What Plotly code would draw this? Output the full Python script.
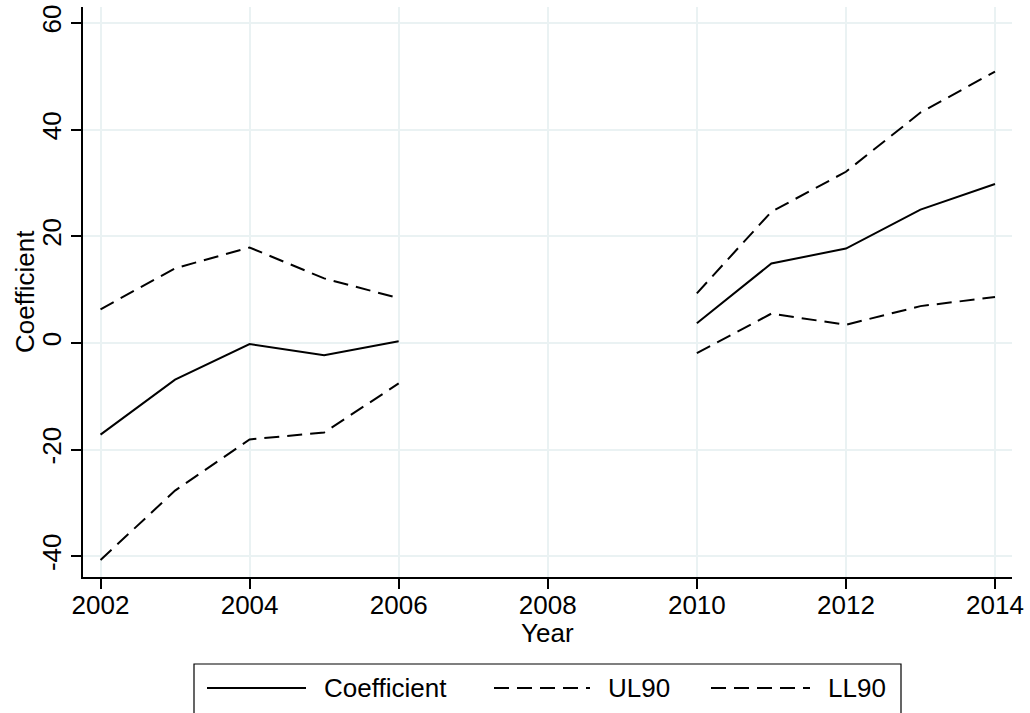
import plotly.graph_objects as go

years = [2002, 2003, 2004, 2005, 2006, 2007, 2008, 2009, 2010, 2011, 2012, 2013, 2014]
coefficient = [-17.2, -6.9, -0.2, -2.3, 0.3, None, None, None, 3.7, 14.9, 17.7, 25.0, 29.8]
ul90 = [6.3, 14.0, 17.9, 12.1, 8.4, None, None, None, 9.3, 24.6, 32.1, 43.2, 50.9]
ll90 = [-40.7, -27.7, -18.1, -16.8, -7.6, None, None, None, -1.9, 5.5, 3.4, 6.9, 8.6]

series_names = ["Coefficient", "UL90", "LL90"]
x_ticks = [2002, 2004, 2006, 2008, 2010, 2012, 2014]
y_ticks = [-40, -20, 0, 20, 40, 60]

FONT = "Liberation Sans, Arial, sans-serif"
FS = 26
GRID = "#EAF2F3"
DASH = "15px,8px"

W, H = 1030, 713
ML, MR, MT, MB = 83, 18, 7, 136
PW, PH = W - ML - MR, H - MT - MB


def px_x(p):
    return (p - ML) / PW


def px_y(p):
    return (H - MB - p) / PH


fig = go.Figure()
styles = [None, DASH, DASH]
for name, vals, dash in zip(series_names, [coefficient, ul90, ll90], styles):
    line = dict(color="black", width=2)
    if dash:
        line["dash"] = dash
    fig.add_trace(go.Scatter(x=years, y=vals, mode="lines", name=name,
                             line=line, connectgaps=False, showlegend=False))

# Legend (drawn manually to match Stata layout)
shapes = [dict(type="rect", xref="paper", yref="paper",
               x0=px_x(194), x1=px_x(901), y0=px_y(664), y1=px_y(740),
               line=dict(color="black", width=1.2), fillcolor="rgba(0,0,0,0)")]
annotations = []
legend_items = [(207, 306, 322, None), (494, 590, 606, DASH), (711, 810, 826, DASH)]
for name, (s0, s1, tx, dash) in zip(series_names, legend_items):
    ln = dict(color="black", width=2)
    if dash:
        ln["dash"] = dash
    shapes.append(dict(type="line", xref="paper", yref="paper",
                       x0=px_x(s0), x1=px_x(s1), y0=px_y(688), y1=px_y(688), line=ln))
    annotations.append(dict(text=name, xref="paper", yref="paper", x=px_x(tx), y=px_y(688),
                            xanchor="left", yanchor="middle", showarrow=False,
                            font=dict(family=FONT, size=FS, color="black")))

# Axis titles
annotations.append(dict(text="Year", xref="paper", yref="paper", x=0.5, y=px_y(633),
                        xanchor="center", yanchor="middle", showarrow=False,
                        font=dict(family=FONT, size=FS, color="black")))
annotations.append(dict(text="Coefficient", xref="paper", yref="paper", x=px_x(25), y=0.5,
                        xanchor="center", yanchor="middle", showarrow=False, textangle=-90,
                        font=dict(family=FONT, size=FS, color="black")))

fig.update_layout(
    width=W, height=H, template="none",
    margin=dict(l=ML, r=MR, t=MT, b=MB, autoexpand=False),
    paper_bgcolor="white", plot_bgcolor="white",
    font=dict(family=FONT, size=FS, color="black"),
    showlegend=False,
    shapes=shapes, annotations=annotations,
    xaxis=dict(range=[2001.765, 2014.228], tickmode="array", tickvals=x_ticks,
               ticktext=[str(v) for v in x_ticks], automargin=False,
               showgrid=True, gridcolor=GRID, gridwidth=2,
               showline=True, linecolor="black", linewidth=1.5,
               ticks="outside", ticklen=10, tickwidth=1.5, tickcolor="black",
               zeroline=False, ticklabelstandoff=-6,
               tickfont=dict(size=FS)),
    yaxis=dict(range=[-43.9, 63.0], tickmode="array", tickvals=y_ticks,
               ticktext=[str(v) for v in y_ticks], automargin=False,
               showgrid=True, gridcolor=GRID, gridwidth=2,
               showline=True, linecolor="black", linewidth=1.5,
               ticks="outside", ticklen=10, tickwidth=1.5, tickcolor="black",
               zeroline=False, tickangle=-90,
               tickfont=dict(size=FS)),
)

fig.write_html("out.html", config={"displayModeBar": False},
               post_script="document.body.style.margin='0px';document.body.style.overflow='hidden';")
